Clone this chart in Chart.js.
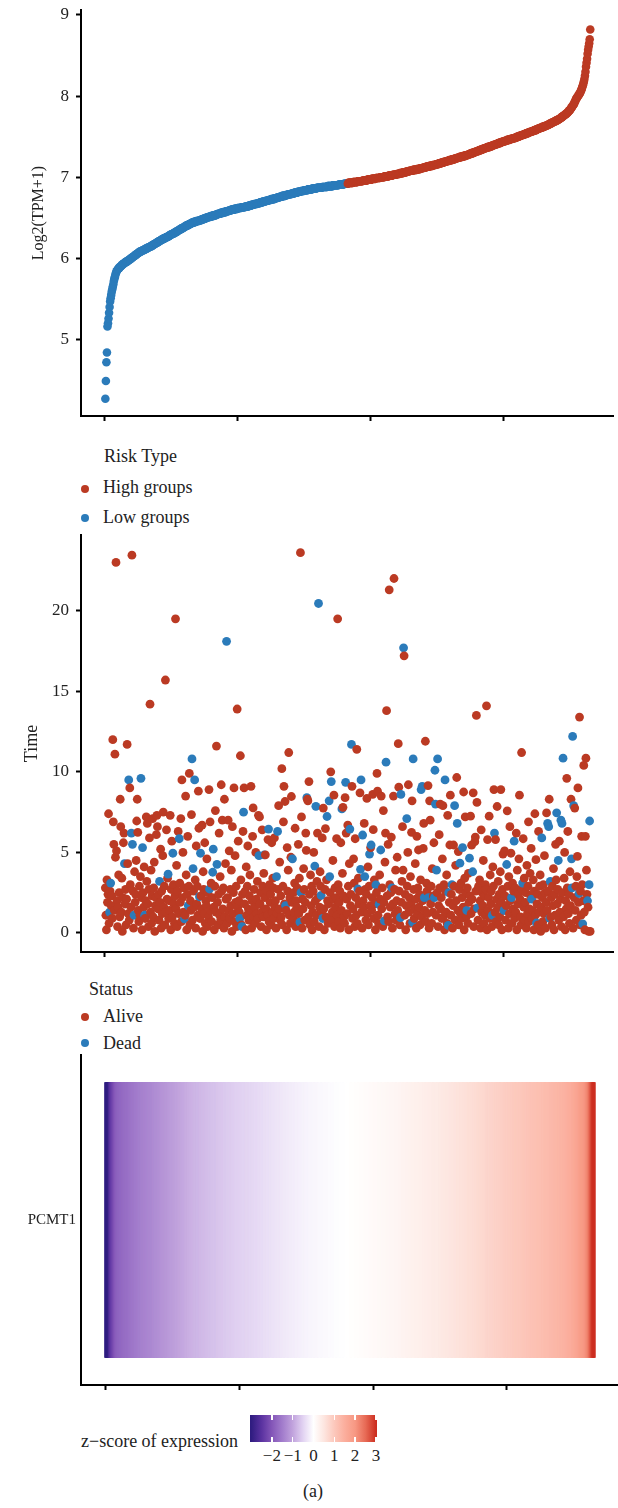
<!DOCTYPE html>
<html>
<head>
<meta charset="utf-8">
<script src="https://cdn.jsdelivr.net/npm/chart.js@4.4.1/dist/chart.umd.min.js"></script>
<style>
  html, body { margin: 0; padding: 0; background: #fff; }
  body { width: 618px; height: 1508px; position: relative; overflow: hidden;
         font-family: "Liberation Serif", "DejaVu Serif", serif; color: #222; }
  canvas { position: absolute; left: 0; }
  .txt { position: absolute; white-space: nowrap; line-height: 1; font-size: 18px; }
  .dot { position: absolute; width: 8px; height: 8px; border-radius: 50%; }
  #colorbar { position: absolute; left: 250px; top: 1415px; width: 127px; height: 27px; }
  .cbtick { position: absolute; width: 1.5px; height: 5px; background: #fff; }
  .cblab { position: absolute; font-size: 17px; line-height: 1; transform: translateX(-50%); }
</style>
</head>
<body>
<canvas id="exprChart" width="618" height="440" style="top:0px"></canvas>

<div class="txt" style="left:104px;top:446.6px">Risk Type</div>
<div class="dot" id="dotHigh" style="left:81px;top:484.5px"></div>
<div class="txt" style="left:103px;top:478.2px">High groups</div>
<div class="dot" id="dotLow" style="left:81px;top:514px"></div>
<div class="txt" style="left:103px;top:508.2px">Low groups</div>

<canvas id="timeChart" width="618" height="446" style="top:530px"></canvas>

<div class="txt" style="left:89px;top:979.9px">Status</div>
<div class="dot" id="dotAlive" style="left:81px;top:1013.3px"></div>
<div class="txt" style="left:103px;top:1007.2px">Alive</div>
<div class="dot" id="dotDead" style="left:81px;top:1038.7px"></div>
<div class="txt" style="left:103px;top:1033.9px">Dead</div>

<canvas id="heatChart" width="618" height="359" style="top:1050px"></canvas>

<div class="txt" style="left:81px;top:1432.2px">z&#8722;score of expression</div>
<div id="colorbar"></div>
<div id="cbLabels"></div>
<div class="txt" style="left:313px;top:1481.9px;transform:translateX(-50%)">(a)</div>

<script>
// --- values ---

const sampleTicks = [0, 250, 500, 750];
const exprTicks = [5, 6, 7, 8, 9];
const timeTicks = [0, 5, 10, 15, 20];
const zTicks = [-2, -1, 0, 1, 2, 3];
const geneName = 'PCMT1';

// sorted Log2(TPM+1), one per sample (rank 1..913)
const expr = [
  4.27, 4.49, 4.72, 4.84, 5.16, 5.20, 5.26, 5.33, 5.40, 5.47,
  5.51, 5.55, 5.59, 5.62, 5.65, 5.68, 5.72, 5.75, 5.77, 5.80,
  5.82, 5.84, 5.85, 5.86, 5.87, 5.88, 5.88, 5.89, 5.90, 5.90,
  5.91, 5.92, 5.92, 5.93, 5.93, 5.94, 5.94, 5.95, 5.95, 5.96,
  5.96, 5.96, 5.97, 5.97, 5.98, 5.98, 5.99, 5.99, 6.00, 6.00,
  6.01, 6.01, 6.02, 6.02, 6.03, 6.03, 6.04, 6.04, 6.05, 6.05,
  6.06, 6.06, 6.07, 6.07, 6.08, 6.08, 6.08, 6.09, 6.09, 6.09,
  6.10, 6.10, 6.10, 6.11, 6.11, 6.11, 6.12, 6.12, 6.12, 6.13,
  6.13, 6.13, 6.14, 6.14, 6.14, 6.15, 6.15, 6.15, 6.16, 6.16,
  6.17, 6.17, 6.17, 6.18, 6.18, 6.19, 6.19, 6.19, 6.20, 6.20,
  6.21, 6.21, 6.21, 6.22, 6.22, 6.23, 6.23, 6.23, 6.24, 6.24,
  6.24, 6.25, 6.25, 6.25, 6.26, 6.26, 6.26, 6.27, 6.27, 6.27,
  6.28, 6.28, 6.29, 6.29, 6.29, 6.30, 6.30, 6.30, 6.31, 6.31,
  6.31, 6.32, 6.32, 6.33, 6.33, 6.33, 6.34, 6.34, 6.35, 6.35,
  6.35, 6.36, 6.36, 6.37, 6.37, 6.37, 6.38, 6.38, 6.38, 6.39,
  6.39, 6.40, 6.40, 6.40, 6.41, 6.41, 6.41, 6.42, 6.42, 6.42,
  6.43, 6.43, 6.43, 6.44, 6.44, 6.44, 6.44, 6.45, 6.45, 6.45,
  6.45, 6.46, 6.46, 6.46, 6.46, 6.46, 6.46, 6.47, 6.47, 6.47,
  6.47, 6.48, 6.48, 6.48, 6.48, 6.49, 6.49, 6.49, 6.49, 6.50,
  6.50, 6.50, 6.50, 6.51, 6.51, 6.51, 6.51, 6.51, 6.52, 6.52,
  6.52, 6.52, 6.52, 6.53, 6.53, 6.53, 6.53, 6.53, 6.54, 6.54,
  6.54, 6.54, 6.55, 6.55, 6.55, 6.55, 6.55, 6.56, 6.56, 6.56,
  6.56, 6.56, 6.57, 6.57, 6.57, 6.57, 6.57, 6.58, 6.58, 6.58,
  6.58, 6.58, 6.59, 6.59, 6.59, 6.59, 6.59, 6.60, 6.60, 6.60,
  6.60, 6.60, 6.60, 6.61, 6.61, 6.61, 6.61, 6.61, 6.61, 6.62,
  6.62, 6.62, 6.62, 6.62, 6.62, 6.62, 6.63, 6.63, 6.63, 6.63,
  6.63, 6.63, 6.63, 6.64, 6.64, 6.64, 6.64, 6.64, 6.64, 6.64,
  6.65, 6.65, 6.65, 6.65, 6.65, 6.66, 6.66, 6.66, 6.66, 6.66,
  6.67, 6.67, 6.67, 6.67, 6.67, 6.67, 6.68, 6.68, 6.68, 6.68,
  6.68, 6.69, 6.69, 6.69, 6.69, 6.69, 6.70, 6.70, 6.70, 6.70,
  6.70, 6.70, 6.71, 6.71, 6.71, 6.71, 6.71, 6.72, 6.72, 6.72,
  6.72, 6.72, 6.73, 6.73, 6.73, 6.73, 6.73, 6.73, 6.74, 6.74,
  6.74, 6.74, 6.74, 6.75, 6.75, 6.75, 6.75, 6.75, 6.76, 6.76,
  6.76, 6.76, 6.76, 6.77, 6.77, 6.77, 6.77, 6.77, 6.77, 6.78,
  6.78, 6.78, 6.78, 6.78, 6.79, 6.79, 6.79, 6.79, 6.79, 6.79,
  6.80, 6.80, 6.80, 6.80, 6.80, 6.80, 6.81, 6.81, 6.81, 6.81,
  6.81, 6.81, 6.82, 6.82, 6.82, 6.82, 6.82, 6.82, 6.83, 6.83,
  6.83, 6.83, 6.83, 6.83, 6.84, 6.84, 6.84, 6.84, 6.84, 6.84,
  6.84, 6.85, 6.85, 6.85, 6.85, 6.85, 6.85, 6.85, 6.85, 6.86,
  6.86, 6.86, 6.86, 6.86, 6.86, 6.86, 6.86, 6.86, 6.87, 6.87,
  6.87, 6.87, 6.87, 6.87, 6.87, 6.87, 6.87, 6.87, 6.88, 6.88,
  6.88, 6.88, 6.88, 6.88, 6.88, 6.88, 6.88, 6.88, 6.89, 6.89,
  6.89, 6.89, 6.89, 6.89, 6.89, 6.89, 6.89, 6.89, 6.90, 6.90,
  6.90, 6.90, 6.90, 6.90, 6.90, 6.90, 6.90, 6.90, 6.90, 6.91,
  6.91, 6.91, 6.91, 6.91, 6.91, 6.91, 6.91, 6.91, 6.91, 6.92,
  6.92, 6.92, 6.92, 6.92, 6.92, 6.92, 6.92, 6.93, 6.93, 6.93,
  6.93, 6.93, 6.93, 6.93, 6.93, 6.93, 6.94, 6.94, 6.94, 6.94,
  6.94, 6.94, 6.94, 6.94, 6.94, 6.95, 6.95, 6.95, 6.95, 6.95,
  6.95, 6.95, 6.95, 6.95, 6.96, 6.96, 6.96, 6.96, 6.96, 6.96,
  6.96, 6.96, 6.96, 6.97, 6.97, 6.97, 6.97, 6.97, 6.97, 6.97,
  6.97, 6.98, 6.98, 6.98, 6.98, 6.98, 6.98, 6.98, 6.98, 6.99,
  6.99, 6.99, 6.99, 6.99, 6.99, 6.99, 6.99, 7.00, 7.00, 7.00,
  7.00, 7.00, 7.00, 7.00, 7.00, 7.01, 7.01, 7.01, 7.01, 7.01,
  7.01, 7.01, 7.01, 7.02, 7.02, 7.02, 7.02, 7.02, 7.02, 7.02,
  7.02, 7.03, 7.03, 7.03, 7.03, 7.03, 7.03, 7.03, 7.04, 7.04,
  7.04, 7.04, 7.04, 7.04, 7.05, 7.05, 7.05, 7.05, 7.05, 7.05,
  7.06, 7.06, 7.06, 7.06, 7.06, 7.06, 7.07, 7.07, 7.07, 7.07,
  7.07, 7.07, 7.08, 7.08, 7.08, 7.08, 7.08, 7.08, 7.08, 7.09,
  7.09, 7.09, 7.09, 7.09, 7.09, 7.09, 7.10, 7.10, 7.10, 7.10,
  7.10, 7.10, 7.11, 7.11, 7.11, 7.11, 7.11, 7.11, 7.12, 7.12,
  7.12, 7.12, 7.12, 7.12, 7.13, 7.13, 7.13, 7.13, 7.13, 7.13,
  7.14, 7.14, 7.14, 7.14, 7.14, 7.14, 7.15, 7.15, 7.15, 7.15,
  7.15, 7.15, 7.16, 7.16, 7.16, 7.16, 7.16, 7.17, 7.17, 7.17,
  7.17, 7.17, 7.18, 7.18, 7.18, 7.18, 7.18, 7.19, 7.19, 7.19,
  7.19, 7.19, 7.20, 7.20, 7.20, 7.20, 7.20, 7.21, 7.21, 7.21,
  7.21, 7.21, 7.22, 7.22, 7.22, 7.22, 7.22, 7.23, 7.23, 7.23,
  7.23, 7.23, 7.24, 7.24, 7.24, 7.24, 7.24, 7.25, 7.25, 7.25,
  7.25, 7.25, 7.26, 7.26, 7.26, 7.26, 7.26, 7.27, 7.27, 7.27,
  7.27, 7.27, 7.28, 7.28, 7.28, 7.28, 7.29, 7.29, 7.29, 7.29,
  7.30, 7.30, 7.30, 7.30, 7.31, 7.31, 7.31, 7.31, 7.32, 7.32,
  7.32, 7.32, 7.33, 7.33, 7.33, 7.33, 7.34, 7.34, 7.34, 7.34,
  7.35, 7.35, 7.35, 7.35, 7.36, 7.36, 7.36, 7.36, 7.37, 7.37,
  7.37, 7.37, 7.37, 7.38, 7.38, 7.38, 7.38, 7.39, 7.39, 7.39,
  7.39, 7.40, 7.40, 7.40, 7.40, 7.41, 7.41, 7.41, 7.41, 7.42,
  7.42, 7.42, 7.42, 7.43, 7.43, 7.43, 7.43, 7.44, 7.44, 7.44,
  7.44, 7.44, 7.45, 7.45, 7.45, 7.45, 7.46, 7.46, 7.46, 7.46,
  7.46, 7.47, 7.47, 7.47, 7.47, 7.47, 7.48, 7.48, 7.48, 7.48,
  7.48, 7.49, 7.49, 7.49, 7.49, 7.50, 7.50, 7.50, 7.50, 7.51,
  7.51, 7.51, 7.51, 7.52, 7.52, 7.52, 7.52, 7.53, 7.53, 7.53,
  7.53, 7.54, 7.54, 7.54, 7.54, 7.55, 7.55, 7.55, 7.55, 7.56,
  7.56, 7.56, 7.56, 7.57, 7.57, 7.57, 7.57, 7.58, 7.58, 7.58,
  7.58, 7.59, 7.59, 7.59, 7.60, 7.60, 7.60, 7.60, 7.61, 7.61,
  7.61, 7.61, 7.62, 7.62, 7.62, 7.62, 7.63, 7.63, 7.63, 7.63,
  7.64, 7.64, 7.64, 7.65, 7.65, 7.65, 7.66, 7.66, 7.66, 7.67,
  7.67, 7.67, 7.68, 7.68, 7.68, 7.69, 7.69, 7.69, 7.70, 7.70,
  7.70, 7.71, 7.71, 7.71, 7.72, 7.72, 7.73, 7.73, 7.74, 7.74,
  7.75, 7.75, 7.76, 7.76, 7.77, 7.77, 7.78, 7.78, 7.79, 7.79,
  7.80, 7.81, 7.82, 7.82, 7.83, 7.84, 7.85, 7.86, 7.87, 7.88,
  7.89, 7.90, 7.91, 7.93, 7.94, 7.96, 7.97, 7.98, 7.99, 8.00,
  8.01, 8.02, 8.03, 8.04, 8.06, 8.07, 8.09, 8.11, 8.13, 8.15,
  8.18, 8.21, 8.25, 8.30, 8.36, 8.41, 8.46, 8.52, 8.57, 8.61,
  8.65, 8.70, 8.82
];

// survival time of the same samples, in the same order
const time = [
  2.8, 1.1, 0.2, 3.3, 1.9, 2.4, 7.4, 0.6, 1.3, 2.6,
  3.1, 1.7, 2.3, 0.9, 12.0, 6.9, 5.5, 1.4, 11.1, 4.7,
  23.0, 5.1, 2.0, 0.4, 1.6, 3.6, 2.5, 1.0, 8.3, 6.6,
  1.3, 3.4, 0.1, 2.2, 5.6, 6.2, 4.3, 1.8, 2.7, 0.5,
  2.1, 11.7, 4.3, 1.2, 9.5, 0.8, 9.0, 3.0, 1.6, 6.2,
  23.45, 5.5, 2.6, 0.3, 1.1, 3.8, 1.9, 2.4, 4.5, 6.95,
  8.3, 6.25, 1.4, 0.7, 2.9, 1.1, 3.5, 9.6, 2.2, 0.2,
  5.3, 2.5, 1.6, 4.1, 1.1, 0.9, 2.0, 7.2, 3.2, 6.8,
  1.8, 0.4, 2.7, 5.9, 14.2, 1.3, 3.9, 0.6, 2.3, 7.1,
  1.0, 2.8, 4.4, 0.1, 1.7, 2.2, 6.1, 7.3, 6.6, 1.5,
  2.4, 0.8, 3.2, 1.9, 5.2, 0.3, 2.6, 1.2, 4.8, 7.5,
  1.6, 2.9, 0.5, 15.7, 1.3, 6.4, 2.1, 3.4, 3.65, 0.9,
  2.0, 1.4, 7.3, 0.2, 2.7, 5.7, 1.0, 4.95, 3.0, 1.8,
  0.6, 2.3, 19.5, 1.5, 4.2, 0.4, 2.6, 6.3, 1.2, 5.85,
  3.1, 1.9, 7.1, 0.7, 9.5, 2.2, 5.0, 1.3, 2.8, 0.87,
  1.1, 8.5, 3.6, 0.2, 2.4, 6.0, 1.7, 2.9, 9.9, 0.5,
  2.0, 1.4, 7.35, 10.8, 0.8, 4.0, 2.6, 1.6, 9.5, 3.3,
  0.3, 5.4, 1.8, 2.9, 1.1, 8.8, 6.5, 2.25, 0.9, 4.95,
  2.3, 1.5, 6.7, 0.1, 3.8, 2.7, 1.2, 5.6, 0.6, 2.0,
  1.7, 4.6, 0.4, 2.5, 1.0, 8.9, 2.73, 6.9, 1.4, 3.1,
  0.7, 2.2, 3.77, 5.2, 1.6, 0.2, 2.9, 7.6, 1.3, 11.6,
  4.26, 1.9, 0.5, 2.4, 6.2, 1.1, 3.5, 0.8, 9.2, 2.6,
  7.0, 1.5, 2.8, 0.3, 8.3, 1.0, 4.3, 2.1, 18.1, 0.6,
  2.2, 7.0, 1.4, 5.1, 0.9, 2.7, 1.7, 3.9, 0.1, 6.6,
  1.2, 2.5, 9.0, 0.7, 4.8, 1.9, 2.9, 0.4, 13.9, 1.6,
  5.7, 2.0, 1.3, 0.9, 11.0, 3.3, 0.5, 0.4, 2.4, 6.3,
  7.5, 9.0, 1.8, 2.6, 0.2, 4.1, 1.1, 2.9, 5.4, 1.5,
  0.8, 2.3, 3.6, 1.4, 9.1, 0.3, 2.0, 6.0, 7.76, 1.0,
  2.7, 1.6, 0.6, 5.0, 2.1, 1.2, 3.2, 0.9, 7.3, 4.8,
  7.2, 1.8, 2.5, 0.4, 1.3, 6.4, 2.9, 1.0, 3.7, 4.85,
  2.2, 4.85, 1.5, 0.2, 2.6, 1.1, 5.8, 6.45, 0.7, 3.0,
  1.9, 2.4, 0.5, 5.6, 1.3, 3.4, 2.8, 0.9, 5.9, 1.6,
  2.0, 0.3, 3.5, 1.2, 6.3, 2.7, 7.9, 1.5, 4.4, 0.8,
  2.3, 1.0, 10.2, 0.5, 2.9, 6.9, 9.1, 1.8, 8.16, 1.7,
  1.4, 0.2, 5.3, 2.6, 3.9, 11.2, 1.1, 2.2, 0.6, 4.7,
  8.47, 1.9, 4.6, 0.9, 2.5, 1.3, 3.1, 6.5, 0.4, 2.0,
  1.6, 2.8, 0.7, 5.5, 1.2, 3.4, 0.68, 23.6, 2.5, 7.2,
  0.3, 2.1, 1.5, 4.0, 2.7, 0.8, 1.9, 6.2, 5.13, 8.4,
  8.3, 8.2, 1.0, 9.4, 2.4, 0.5, 3.6, 1.7, 2.9, 0.2,
  1.3, 2.6, 5.0, 0.7, 4.15, 2.0, 7.86, 1.1, 3.2, 6.2,
  2.2, 20.45, 0.4, 1.6, 3.8, 2.9, 2.33, 1.2, 5.9, 0.9,
  7.75, 1.5, 0.2, 2.7, 6.48, 1.0, 3.3, 7.23, 2.0, 0.6,
  1.8, 8.2, 3.5, 2.5, 10.0, 9.4, 0.8, 1.3, 4.5, 2.1,
  8.55, 0.4, 2.8, 1.6, 2.2, 5.85, 1.1, 19.5, 3.0, 0.7,
  1.9, 2.6, 0.3, 5.6, 1.4, 7.7, 3.7, 7.8, 2.3, 1.0,
  0.6, 8.4, 9.35, 6.2, 2.1, 1.2, 6.7, 2.9, 0.2, 4.3,
  6.45, 1.7, 2.4, 11.7, 9.1, 0.9, 1.5, 4.6, 3.1, 0.4,
  5.85, 2.2, 1.1, 11.4, 0.6, 2.73, 3.4, 1.8, 2.6, 8.7,
  3.95, 9.5, 1.3, 0.3, 6.08, 2.0, 1.6, 6.8, 3.5, 2.7,
  0.8, 2.4, 8.35, 1.2, 4.1, 0.5, 2.9, 4.9, 1.7, 5.3,
  5.46, 1.4, 2.2, 8.6, 6.41, 0.9, 3.3, 1.8, 0.2, 2.98,
  2.5, 9.9, 8.8, 1.1, 0.6, 1.78, 3.6, 2.1, 5.15, 8.5,
  1.5, 2.8, 0.4, 7.6, 1.9, 0.75, 4.4, 6.2, 10.6, 13.8,
  2.3, 1.0, 5.5, 0.7, 21.3, 3.0, 1.6, 2.5, 5.95, 2.8,
  0.3, 1.8, 8.5, 22.0, 2.7, 1.2, 3.9, 0.8, 2.0, 4.7,
  1.4, 11.75, 9.05, 2.6, 0.5, 0.96, 8.6, 1.9, 3.2, 6.6,
  3.9, 17.7, 17.2, 1.1, 2.4, 0.2, 1.7, 7.1, 2.9, 5.0,
  9.2, 1.3, 2.2, 0.6, 3.5, 1.8, 6.25, 8.2, 0.66, 10.8,
  2.7, 0.9, 1.5, 4.3, 2.1, 0.3, 6.0, 1.2, 2.8, 5.15,
  1.6, 2.4, 0.5, 3.3, 8.9, 1.0, 9.1, 2.0, 5.25, 6.8,
  2.2, 1.4, 11.9, 0.7, 3.1, 2.6, 1.2, 9.15, 2.2, 0.3,
  8.2, 7.0, 1.8, 2.9, 0.6, 4.0, 1.3, 2.3, 5.6, 2.2,
  10.1, 8.0, 1.1, 3.9, 2.5, 10.8, 0.4, 1.7, 6.1, 2.8,
  8.0, 1.5, 2.2, 0.9, 4.6, 7.9, 1.0, 3.0, 0.2, 9.5,
  2.6, 1.3, 3.6, 0.6, 7.3, 0.47, 2.5, 1.9, 5.46, 8.55,
  1.1, 2.4, 3.0, 0.3, 1.7, 5.46, 2.9, 7.9, 0.8, 4.2,
  2.0, 9.65, 6.8, 1.4, 5.05, 0.5, 2.7, 4.33, 1.2, 3.1,
  0.9, 2.2, 5.3, 1.6, 8.75, 0.2, 3.4, 7.2, 2.5, 1.0,
  1.4, 2.8, 0.6, 3.7, 1.9, 4.64, 2.3, 7.25, 1.2, 5.45,
  2.1, 3.8, 8.7, 0.4, 1.5, 5.67, 5.95, 2.6, 13.5, 8.1,
  1.55, 0.8, 2.9, 1.55, 3.3, 2.0, 0.3, 6.4, 1.3, 2.5,
  1.7, 4.5, 0.6, 2.3, 1.1, 3.0, 2.7, 14.1, 0.2, 5.8,
  1.4, 2.2, 7.25, 0.9, 3.6, 1.8, 2.6, 0.4, 1.1, 4.1,
  2.9, 8.9, 6.2, 1.3, 5.8, 0.7, 2.1, 7.85, 1.6, 3.2,
  0.5, 2.4, 1.0, 3.8, 8.9, 1.9, 0.2, 2.7, 4.9, 1.4,
  1.4, 5.1, 2.3, 0.8, 1.7, 4.25, 7.58, 2.9, 0.3, 3.5,
  1.2, 6.6, 2.0, 4.95, 2.2, 0.6, 3.1, 1.5, 2.6, 5.7,
  0.9, 2.8, 1.3, 6.2, 0.2, 3.9, 1.8, 2.4, 4.6, 8.55,
  2.1, 1.0, 0.5, 11.2, 2.7, 3.1, 5.85, 1.6, 3.4, 0.8,
  1.9, 2.5, 0.3, 4.2, 1.2, 2.9, 6.9, 0.7, 1.5, 3.7,
  2.3, 5.25, 2.1, 0.9, 1.4, 3.3, 0.2, 2.6, 7.4, 1.1,
  4.55, 0.62, 1.8, 2.4, 0.5, 6.3, 1.3, 2.9, 3.6, 0.1,
  1.6, 5.9, 2.2, 0.7, 3.0, 1.2, 4.8, 2.5, 0.3, 1.9,
  7.45, 1.4, 6.8, 2.6, 6.6, 8.3, 0.9, 3.2, 1.0, 2.2,
  0.5, 2.9, 1.7, 4.0, 0.2, 2.4, 1.1, 5.5, 3.3, 7.46,
  1.8, 2.7, 4.5, 0.8, 5.7, 1.3, 2.1, 7.0, 0.4, 6.8,
  2.5, 10.85, 1.0, 3.4, 5.0, 0.2, 2.0, 1.5, 9.6, 2.8,
  6.3, 1.2, 2.4, 0.6, 3.8, 1.7, 8.3, 4.6, 2.8, 12.2,
  0.3, 7.9, 2.2, 7.75, 1.4, 2.9, 0.8, 3.5, 4.75, 9.0,
  1.9, 2.45, 13.4, 0.5, 2.6, 1.1, 6.0, 3.0, 0.57, 2.0,
  10.4, 1.3, 0.2, 6.0, 10.85, 3.9, 2.4, 2.0, 1.6, 0.1,
  3.0, 6.95, 0.1
];

// 1 = Dead, 0 = Alive
const status = [
  0,0,0,0,0,0,0,0,1,0, 1,0,0,0,0,0,0,0,0,0, 0,0,0,0,0,0,0,0,0,0, 0,0,0,0,0,0,1,0,0,0,
  0,0,0,0,1,0,0,0,0,1, 0,1,0,0,1,0,0,0,0,0, 0,0,0,0,0,0,0,1,0,0, 1,0,0,0,1,0,0,0,0,0,
  0,0,0,0,0,0,0,0,0,0, 0,0,0,0,0,0,0,0,0,0, 0,0,1,0,0,0,0,0,0,0, 0,0,0,0,0,0,0,0,1,0,
  0,0,0,0,0,0,0,1,0,0, 0,0,0,0,0,0,0,0,0,1, 0,0,0,0,0,0,0,0,0,1, 0,0,0,0,0,0,1,0,0,0,
  0,0,0,1,0,1,0,0,1,0, 0,0,0,0,0,0,0,1,0,1, 0,0,0,0,0,0,0,0,0,0, 0,0,0,0,0,0,1,0,0,0,
  0,0,1,1,0,0,0,0,0,0, 1,0,0,0,0,0,0,0,0,0, 0,0,0,0,0,0,0,0,1,0, 0,0,0,0,0,0,0,0,0,0,
  0,0,0,0,0,0,0,0,0,0, 0,0,0,1,0,0,0,1,0,0, 1,0,0,0,0,0,0,0,0,0, 0,0,0,0,0,0,0,0,0,0,
  0,0,0,0,0,0,0,0,0,1, 0,0,0,0,0,0,0,0,0,1, 0,0,0,0,0,0,0,1,0,0, 0,0,0,0,0,0,0,0,0,0,
  0,0,1,0,1,0,0,0,0,0, 0,0,0,0,0,0,0,0,0,1, 0,0,0,0,0,0,0,0,0,0, 0,0,1,0,0,0,0,0,0,0,
  0,0,0,0,0,0,1,0,1,0, 0,0,0,0,0,0,0,0,0,1, 0,0,0,0,0,0,0,0,0,0, 0,0,0,0,1,0,1,0,0,0,
  0,1,0,0,0,0,1,0,0,1, 0,0,0,0,0,0,0,1,0,0, 0,1,1,0,0,1,0,0,0,0, 0,0,0,0,0,0,0,0,0,0,
  0,0,0,0,0,1,0,0,0,0, 0,0,1,0,0,0,0,0,0,0, 1,0,0,1,0,0,0,0,0,0, 0,0,0,0,0,1,0,0,0,0,
  1,1,0,0,1,0,0,0,1,0, 0,0,0,0,0,0,0,1,0,0, 1,0,0,0,0,0,0,0,0,1, 0,0,0,0,0,1,0,0,1,0,
  0,0,0,0,0,1,0,0,1,0, 0,0,0,0,0,0,0,0,0,1, 0,0,0,0,0,0,0,0,0,0, 0,0,0,0,0,1,1,0,0,0,
  0,1,0,0,0,0,0,1,0,0, 0,0,0,0,0,0,0,0,1,1, 0,0,0,0,0,0,0,0,0,0, 0,0,0,0,1,0,1,0,0,0,
  1,0,0,0,0,0,0,0,1,0, 0,0,0,0,0,0,0,0,0,1, 1,1,0,1,0,1,0,0,0,0, 0,0,0,0,0,0,0,0,0,1,
  0,0,0,0,0,1,1,0,0,0, 0,0,1,0,0,0,0,1,0,0, 0,0,1,0,0,0,0,1,0,0, 0,0,1,0,0,0,0,0,0,0,
  1,0,0,0,0,1,0,0,0,0, 0,1,0,0,0,0,0,0,0,0, 1,0,0,1,0,0,0,0,0,0, 0,0,0,0,0,0,0,0,0,0,
  0,0,0,0,0,0,0,0,1,0, 0,0,1,0,0,0,0,0,0,0, 0,0,0,0,0,0,0,0,0,0, 1,0,0,0,0,1,0,0,0,0,
  0,0,0,0,1,0,0,0,0,1, 0,0,0,0,0,0,0,0,0,0, 0,0,0,0,0,1,0,0,0,0, 0,0,0,0,0,0,0,0,0,0,
  0,0,1,0,0,0,0,0,0,0, 0,1,0,0,0,0,0,0,0,0, 0,1,0,0,0,0,0,0,0,0, 0,0,1,0,1,0,1,1,0,0,
  0,0,0,0,0,0,0,0,0,1, 0,0,1,0,0,0,0,1,0,1, 0,1,0,0,0,0,0,0,0,0, 0,0,0,0,0,0,0,1,1,1,
  0,1,0,0,0,0,0,0,0,0, 0,1,0,0,0,0,0,0,1,0, 0,0,0,0,0,0,0,1,0,0, 1,1,0
];

// z-score colour key (style)
const zStops = [-3, -2.5, -2, -1.5, -1, -0.5, 0, 0.5, 1, 1.5, 2, 2.5, 3];
const zPalette = ['#2f1c80', '#5a32a0', '#8456b8', '#a27ccc', '#c1a3dd', '#e2d3f2', '#ffffff',
                  '#fde6e0', '#fcc8bc', '#fbae9d', '#f79883', '#e76a55', '#cc2e20'];

const RED = '#BB3A23';
const BLUE = '#2B7BBA';
const FONT = '"Liberation Serif", "DejaVu Serif", serif';
const X_MIN = -44.8, X_MAX = 957.1;

Chart.defaults.font.family = FONT;
Chart.defaults.color = '#222';

// --- derived ---
const N = expr.length;
const half = Math.floor(N / 2);
const rank = expr.map((_, i) => i + 1);
const riskColors = rank.map(r => r <= half ? BLUE : RED);
const statusColors = status.map(s => s === 1 ? BLUE : RED);

const mean = expr.reduce((a, b) => a + b, 0) / N;
const sd = Math.sqrt(expr.reduce((a, b) => a + (b - mean) * (b - mean), 0) / (N - 1));
const zScore = expr.map(v => Math.max(-3, Math.min(3, (v - mean) / sd)));

function hexRgb(h) {
  return [parseInt(h.slice(1, 3), 16), parseInt(h.slice(3, 5), 16), parseInt(h.slice(5, 7), 16)];
}
function zColor(z) {
  let k = 0;
  while (k < zStops.length - 2 && z > zStops[k + 1]) k++;
  const t = (z - zStops[k]) / (zStops[k + 1] - zStops[k]);
  const a = hexRgb(zPalette[k]), b = hexRgb(zPalette[k + 1]);
  const c = a.map((v, j) => Math.round(v + (b[j] - v) * t));
  return `rgb(${c[0]},${c[1]},${c[2]})`;
}
const heatColors = zScore.map(zColor);

// --- legend bits ---
document.getElementById('dotHigh').style.background = RED;
document.getElementById('dotLow').style.background = BLUE;
document.getElementById('dotAlive').style.background = RED;
document.getElementById('dotDead').style.background = BLUE;

const cb = document.getElementById('colorbar');
cb.style.background = 'linear-gradient(to right, ' +
  zPalette.map((c, k) => `${c} ${((zStops[k] + 3.05) / 6.1 * 100).toFixed(2)}%`).join(', ') + ')';
const cbX = v => 313.5 + v * 20.8;
const cbLabels = document.getElementById('cbLabels');
zTicks.forEach(v => {
  const x = cbX(v) - 250;
  ['0px', '22px'].forEach(t => {
    const d = document.createElement('div');
    d.className = 'cbtick';
    d.style.left = (x - 0.75) + 'px';
    d.style.top = t;
    cb.appendChild(d);
  });
  const l = document.createElement('div');
  l.className = 'cblab';
  l.style.left = cbX(v) + 'px';
  l.style.top = '1446.8px';
  l.textContent = v < 0 ? '\u2212' + Math.abs(v) : String(v);
  cbLabels.appendChild(l);
});

// --- axes helpers ---
function sampleAxis() {
  return {
    type: 'linear', min: X_MIN, max: X_MAX, offset: false,
    afterBuildTicks: s => { s.ticks = sampleTicks.map(v => ({ value: v })); },
    afterFit: s => { s.height = 24; s.paddingLeft = 0; s.paddingRight = 0; },
    ticks: { display: false },
    grid: { drawOnChartArea: false, drawTicks: true, tickLength: 5, tickWidth: 2, tickColor: '#000', offset: false },
    border: { display: true, color: '#000', width: 2 }
  };
}
function valueAxis(min, max, ticks, title, titleSize, titlePad) {
  return {
    type: 'linear', min: min, max: max,
    afterBuildTicks: s => { s.ticks = ticks.map(v => ({ value: v })); },
    afterFit: s => { s.width = 81; s.paddingTop = 0; s.paddingBottom = 0; },
    ticks: { color: '#222', font: { family: FONT, size: 17 }, padding: 7 },
    grid: { drawOnChartArea: false, drawTicks: true, tickLength: 5, tickWidth: 2, tickColor: '#000' },
    border: { display: true, color: '#000', width: 2 },
    title: { display: true, text: title, color: '#222', font: { family: FONT, size: titleSize },
             padding: { top: titlePad, bottom: 0 } }
  };
}
const baseOpts = {
  responsive: false, animation: false, devicePixelRatio: 1, events: [],
  plugins: { legend: { display: false }, tooltip: { enabled: false } }
};

// --- panel 1: sorted expression ---
new Chart(document.getElementById('exprChart'), {
  type: 'scatter',
  data: { datasets: [{
    data: rank.map((r, i) => ({ x: r, y: expr[i] })),
    pointRadius: 4.3, pointBorderWidth: 0,
    pointBackgroundColor: riskColors, pointBorderColor: riskColors
  }] },
  options: Object.assign({}, baseOpts, {
    layout: { padding: { top: 10, right: 0, bottom: 0, left: 0 } },
    scales: { x: sampleAxis(), y: valueAxis(4.058, 9.06, exprTicks, 'Log2(TPM+1)', 16, 29) }
  })
});

// --- panel 2: survival time ---
new Chart(document.getElementById('timeChart'), {
  type: 'scatter',
  data: { datasets: [{
    data: rank.map((r, i) => ({ x: r, y: time[i] })),
    pointRadius: 4.4, pointBorderWidth: 0,
    pointBackgroundColor: statusColors, pointBorderColor: statusColors
  }] },
  options: Object.assign({}, baseOpts, {
    layout: { padding: { top: 5, right: 0, bottom: 0, left: 0 } },
    scales: { x: sampleAxis(), y: valueAxis(-1.18, 24.70, timeTicks, 'Time', 18, 21) }
  })
});

// --- panel 3: expression heatmap ---
const heatY = {
  type: 'linear', min: -0.1, max: 1.1,
  afterBuildTicks: s => { s.ticks = [{ value: 0.5 }]; },
  afterFit: s => { s.width = 81; s.paddingTop = 0; s.paddingBottom = 0; },
  ticks: { color: '#222', font: { family: FONT, size: 15 }, padding: 5, callback: () => geneName },
  grid: { drawOnChartArea: false, drawTicks: false },
  border: { display: true, color: '#000', width: 2 }
};
new Chart(document.getElementById('heatChart'), {
  type: 'bar',
  data: { datasets: [{
    data: rank.map(r => ({ x: r, y: [0, 1] })),
    backgroundColor: heatColors, borderWidth: 0, borderSkipped: false,
    barThickness: 2
  }] },
  options: Object.assign({}, baseOpts, {
    layout: { padding: { top: 5, right: 0, bottom: 0, left: 0 } },
    scales: { x: sampleAxis(), y: heatY }
  })
});
</script>
</body>
</html>
